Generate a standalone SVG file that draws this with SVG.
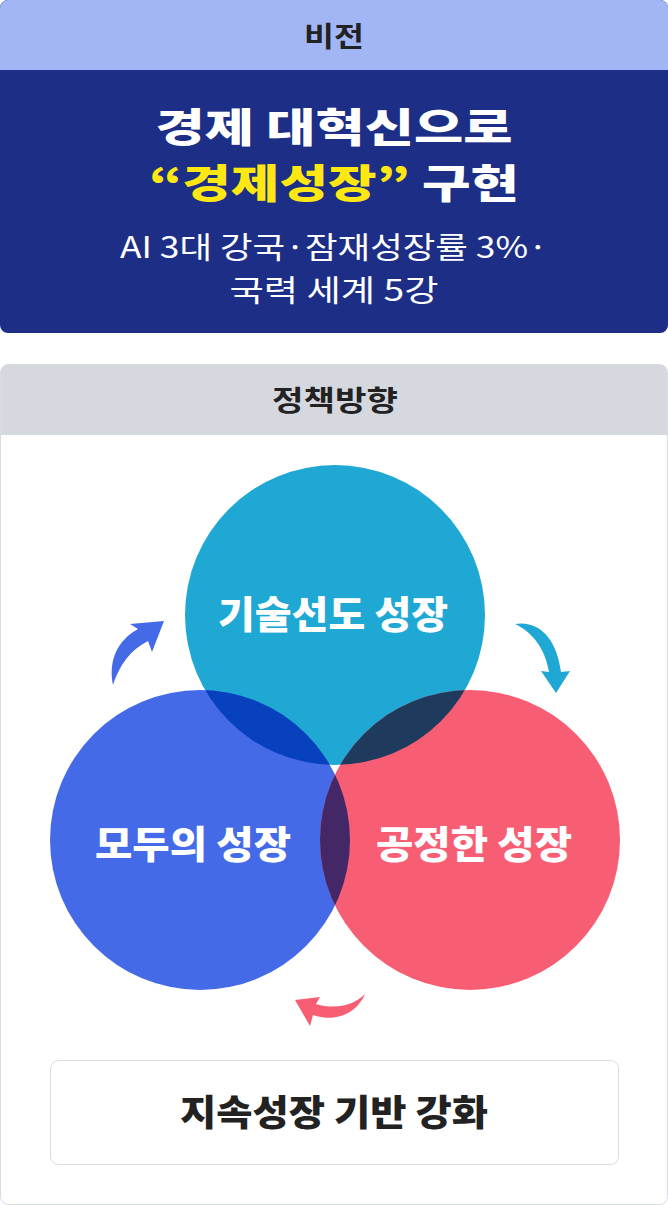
<svg xmlns="http://www.w3.org/2000/svg" width="668" height="1205" viewBox="0 0 668 1205">
<style>
.k{font-family:"Noto Sans CJK KR","Noto Sans",sans-serif}
.cl{font-family:"Noto Sans CJK KR",sans-serif;font-weight:900;font-size:38px;fill:#fff;text-anchor:middle}
</style>
<defs>
<clipPath id="cT"><circle cx="335" cy="615" r="150"/></clipPath>
<clipPath id="cL"><circle cx="200" cy="840" r="150"/></clipPath>
</defs>
<rect width="668" height="1205" fill="#fff"/>
<g id="vision">
<rect x="0" y="0" width="668" height="333" rx="8" fill="#1c2e86"/>
<path d="M0 8a8 8 0 0 1 8-8h652a8 8 0 0 1 8 8v62H0z" fill="#a2b6f6"/>
<text x="334" y="47" class="k" font-size="28" font-weight="700" fill="#222" text-anchor="middle" textLength="60" lengthAdjust="spacingAndGlyphs">비전</text>
<text x="334" y="142" class="k" font-size="40" font-weight="900" fill="#fff" text-anchor="middle" textLength="357" lengthAdjust="spacingAndGlyphs">경제 대혁신으로</text>
<text x="334" y="198" class="k" font-size="40" font-weight="900" fill="#fff" text-anchor="middle" textLength="370" lengthAdjust="spacingAndGlyphs"><tspan fill="#ffe812">“경제성장”</tspan> 구현</text>
<text x="334" y="258" class="k" font-size="30" fill="#fff" text-anchor="middle" textLength="428" lengthAdjust="spacingAndGlyphs">AI 3대 강국·잠재성장률 3%·</text>
<text x="334" y="301" class="k" font-size="30" fill="#fff" text-anchor="middle" textLength="209" lengthAdjust="spacingAndGlyphs">국력 세계 5강</text>
</g>
<g id="policy">
<rect x="0.5" y="364.5" width="667" height="840" rx="8" fill="#fff" stroke="#d9dbe2"/>
<path d="M1 372a7.5 7.5 0 0 1 7.5-7.5h651a7.5 7.5 0 0 1 7.5 7.5v63H1z" fill="#d6d8df"/>
<text x="335" y="411" class="k" font-size="28" font-weight="700" fill="#222" text-anchor="middle" textLength="126" lengthAdjust="spacingAndGlyphs">정책방향</text>
</g>
<g id="circle-top"><circle cx="335" cy="615" r="150" fill="#1fa8d4"/></g>
<g id="circle-left"><circle cx="200" cy="840" r="150" fill="#446ae8"/></g>
<g id="circle-right"><circle cx="470" cy="840" r="150" fill="#f85e73"/></g>
<g id="overlaps">
<g clip-path="url(#cT)"><circle cx="200" cy="840" r="150" fill="#0841bd"/><circle cx="470" cy="840" r="150" fill="#1e3a5c"/></g>
<g clip-path="url(#cL)"><circle cx="470" cy="840" r="150" fill="#432766"/></g>
</g>
<text x="333" y="628" class="cl" textLength="230" lengthAdjust="spacingAndGlyphs">기술선도 성장</text>
<text x="193" y="858" class="cl" textLength="196" lengthAdjust="spacingAndGlyphs">모두의 성장</text>
<text x="474" y="858" class="cl" textLength="196" lengthAdjust="spacingAndGlyphs">공정한 성장</text>
<g id="connectors">
<path d="M113 685C108 660 118 640 138 629L130 624 164 621 152 652 148 641C130 650 119 666 113 685Z" fill="#446ae8"/>
<path d="M515 624C540 620 557 640 561 672L570 671 556 693 541 671 549 672C545 648 532 632 515 624Z" fill="#1fa8d4"/>
<path d="M365 994C357 1013 336 1023 313 1015L310 1026 295 1000 320 997 316 1004C336 1010 354 1005 365 994Z" fill="#f85e73"/>
</g>
<g id="foundation">
<rect x="50.5" y="1060.5" width="568" height="104" rx="8" fill="#fff" stroke="#d9dbe2"/>
<text x="334" y="1126" class="k" font-size="36" font-weight="900" fill="#222" text-anchor="middle" textLength="308" lengthAdjust="spacingAndGlyphs">지속성장 기반 강화</text>
</g>
</svg>
